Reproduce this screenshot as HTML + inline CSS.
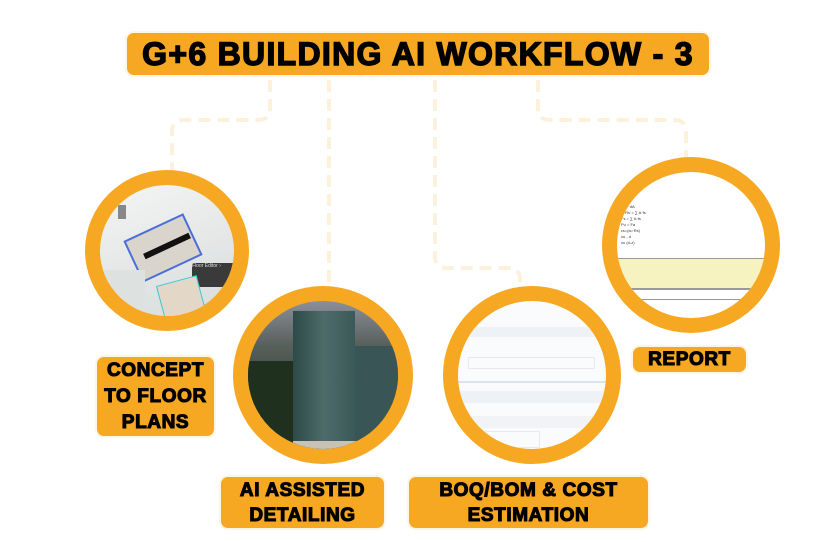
<!DOCTYPE html>
<html><head><meta charset="utf-8">
<style>
body{margin:0;width:831px;height:542px;background:#fff;position:relative;overflow:hidden;font-family:"Liberation Sans",Arial,sans-serif}
.box{position:absolute;background:#f7a823;border-radius:7px;color:#000;font-weight:bold;text-align:center;-webkit-text-stroke:1.1px #000;box-shadow:0 0 0 2px #fff5e6;letter-spacing:0.6px}
.c{position:absolute;border:15px solid #f7a823;border-radius:50%;overflow:hidden;box-sizing:border-box}
</style></head><body>
<svg width="831" height="542" style="position:absolute;left:0;top:0">
<g fill="none" stroke="#fdf1dc" stroke-width="4" stroke-dasharray="12,7">
<path d="M270 80 V108 Q270 120 258 120 H184 Q172 120 172 132 V172"/>
<path d="M329 80 V290"/>
<path d="M435 80 V256 Q435 268 447 268 H508 Q520 268 520 280 V290"/>
<path d="M538 80 V108 Q538 120 550 120 H674 Q686 120 686 132 V160"/>
</g></svg>

<div class="box" style="left:127px;top:33px;width:582px;height:42px;line-height:42px;font-size:32px;letter-spacing:1.3px;-webkit-text-stroke:1.4px #000">G+6 BUILDING AI WORKFLOW - 3</div>

<div class="c" style="left:85px;top:170px;width:164px;height:161px;background:linear-gradient(160deg,#f4f4f4 0%,#e6e8e8 50%,#d8dcdc 100%)">
 <div style="position:absolute;left:30px;top:40px;width:62px;height:42px;border:2px solid #4a6fd8;transform:rotate(-25deg);background:#d9d5cc"></div>
 <div style="position:absolute;left:42px;top:58px;width:50px;height:6px;background:#111;transform:rotate(-25deg)"></div>
 <div style="position:absolute;left:92px;top:78px;width:50px;height:24px;background:#3a3a3a;border-radius:2px;color:#ddd;font-size:5px;-webkit-text-stroke:0">Floor Editor ›</div>
 <div style="position:absolute;left:60px;top:95px;width:40px;height:35px;border:1px solid #37c9d6;background:#e3d8c8;transform:rotate(-15deg)"></div>
 <div style="position:absolute;left:0;top:85px;width:45px;height:60px;background:#dde1e0"></div>
 <div style="position:absolute;left:18px;top:20px;width:8px;height:14px;background:#888"></div>
</div>

<div class="c" style="left:233px;top:286px;width:180px;height:178px;background:linear-gradient(180deg,#8b8f9a 0%,#58605c 30%,#2f3d2f 70%,#545a55 100%)">
 <div style="position:absolute;left:45px;top:10px;width:62px;height:155px;background:linear-gradient(90deg,#2d4a48,#4d6b6a,#3a5958);"></div>
 <div style="position:absolute;left:107px;top:45px;width:45px;height:120px;background:#3a5556"></div>
 <div style="position:absolute;left:0;top:60px;width:45px;height:110px;background:#20301f"></div>
 <div style="position:absolute;left:45px;top:140px;width:110px;height:30px;background:#c8c2b4"></div>
</div>

<div class="c" style="left:443px;top:286px;width:178px;height:178px;background:#fafbfc">
 <div style="position:absolute;left:0;top:26px;width:178px;height:10px;background:#eef2f6"></div>
 <div style="position:absolute;left:10px;top:56px;width:125px;height:10px;border:1px solid #e6e9ee"></div>
 <div style="position:absolute;left:0;top:80px;width:178px;height:2px;background:#dbe3ec"></div>
 <div style="position:absolute;left:0;top:90px;width:178px;height:12px;background:#eef2f6"></div>
 <div style="position:absolute;left:0;top:115px;width:178px;height:12px;background:#f1f3f6"></div>
 <div style="position:absolute;left:20px;top:130px;width:60px;height:15px;border:1px solid #e6e9ee"></div>
 <div style="position:absolute;left:20px;top:152px;width:60px;height:15px;border:1px solid #e6e9ee"></div>
</div>

<div class="c" style="left:602px;top:157px;width:178px;height:176px;background:#fff">
 <div style="position:absolute;left:4px;top:32px;width:60px;height:80px;font-size:4px;color:#333;line-height:6px">f=∑ ·dA<br>in Ru = ∑ A·fs<br>Fs = ∑ A·fs<br>Pu = Fa<br>εs=(εu·Rs)<br>xu - d<br>xu (d-z)</div>
 <div style="position:absolute;left:0;top:86px;width:170px;height:30px;background:#f6f3c0;border:1px solid #999"></div>
 <div style="position:absolute;left:0;top:116px;width:170px;height:10px;border:1px solid #999"></div>
</div>

<div class="box" style="left:97px;top:357px;width:117px;height:79px;font-size:19px;line-height:26px;padding-top:1px;box-sizing:border-box">CONCEPT<br>TO FLOOR<br>PLANS</div>
<div class="box" style="left:633px;top:347px;width:113px;height:25px;line-height:25px;font-size:19px">REPORT</div>
<div class="box" style="left:221px;top:477px;width:163px;height:51px;font-size:19px;line-height:25px;padding-top:1px;box-sizing:border-box">AI ASSISTED<br>DETAILING</div>
<div class="box" style="left:409px;top:477px;width:239px;height:51px;font-size:19px;line-height:25px;padding-top:1px;box-sizing:border-box">BOQ/BOM &amp; COST<br>ESTIMATION</div>
</body></html>
